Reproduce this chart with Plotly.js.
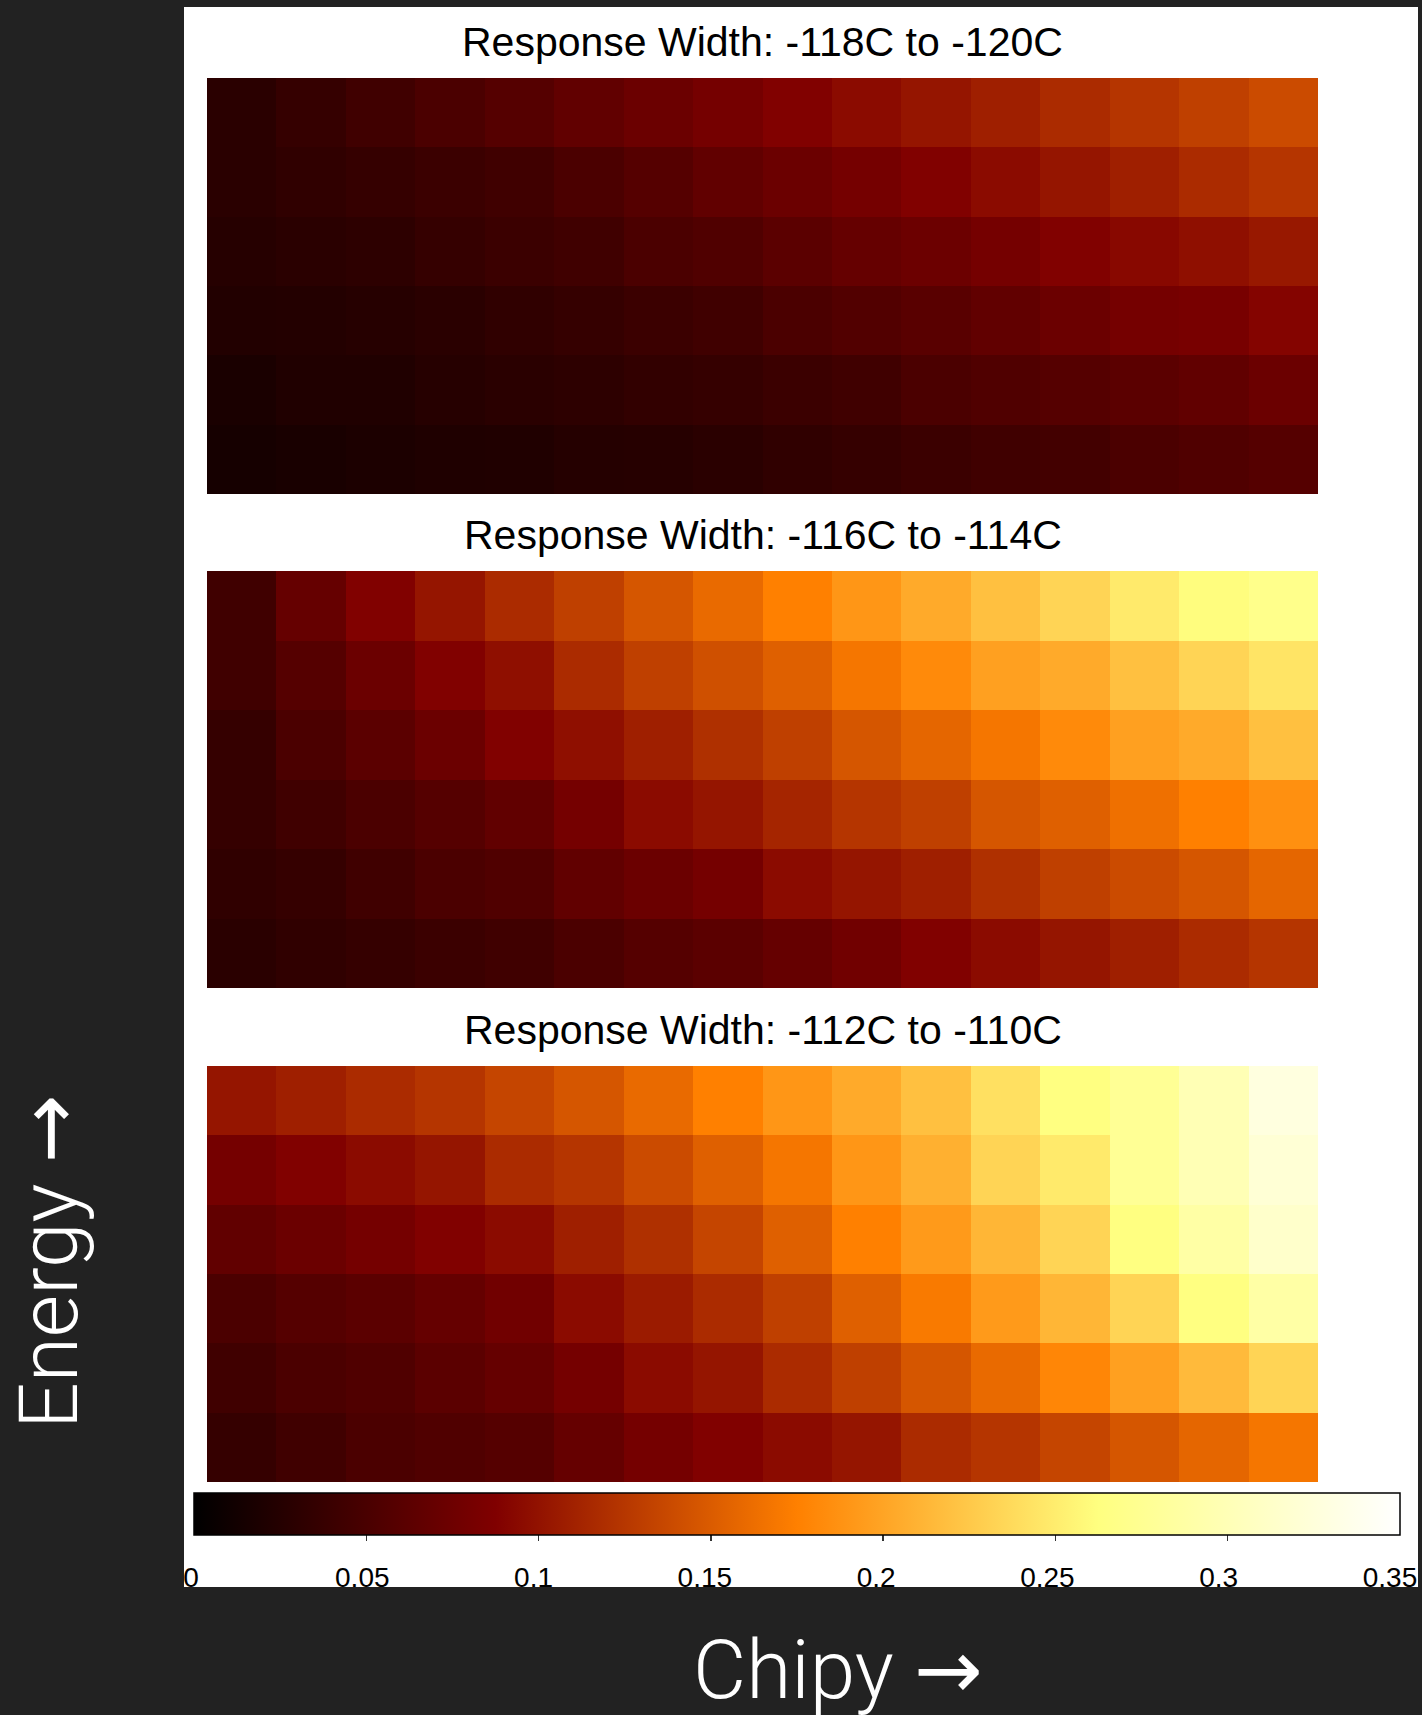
<!DOCTYPE html>
<html>
<head>
<meta charset="utf-8">
<script src="https://cdn.plot.ly/plotly-3.0.1.min.js"></script>
<style>
  html, body { margin: 0; padding: 0; background: #222222; }
  #chart { width: 1422px; height: 1715px; }
</style>
</head>
<body>
<div id="chart"></div>
<script>
// Grid coordinates: 16 chipy bins across, 6 energy bins up (lowest energy first)
const chipy = [1, 2, 3, 4, 5, 6, 7, 8, 9, 10, 11, 12, 13, 14, 15, 16];
const energy = [1, 2, 3, 4, 5, 6];

const panelTitles = [
  'Response Width: -118C to -120C',
  'Response Width: -116C to -114C',
  'Response Width: -112C to -110C'
];

// Response maps, rows listed from lowest energy to highest
const response118to120 = [
  [0.015, 0.017, 0.019, 0.021, 0.022, 0.025, 0.026, 0.029, 0.033, 0.036, 0.040, 0.044, 0.046, 0.051, 0.055, 0.058],
  [0.018, 0.022, 0.022, 0.026, 0.029, 0.031, 0.034, 0.036, 0.040, 0.044, 0.051, 0.055, 0.058, 0.062, 0.066, 0.073],
  [0.023, 0.024, 0.026, 0.029, 0.033, 0.036, 0.040, 0.044, 0.051, 0.056, 0.061, 0.066, 0.073, 0.080, 0.082, 0.090],
  [0.026, 0.029, 0.031, 0.036, 0.040, 0.044, 0.051, 0.055, 0.062, 0.069, 0.074, 0.080, 0.088, 0.093, 0.098, 0.104],
  [0.029, 0.033, 0.036, 0.040, 0.044, 0.051, 0.058, 0.066, 0.073, 0.080, 0.088, 0.095, 0.102, 0.109, 0.117, 0.124],
  [0.029, 0.036, 0.044, 0.051, 0.058, 0.066, 0.073, 0.080, 0.088, 0.095, 0.102, 0.109, 0.117, 0.124, 0.131, 0.139]
];

const response116to114 = [
  [0.029, 0.033, 0.036, 0.040, 0.044, 0.051, 0.058, 0.062, 0.069, 0.077, 0.088, 0.095, 0.102, 0.109, 0.117, 0.124],
  [0.033, 0.036, 0.044, 0.051, 0.055, 0.066, 0.073, 0.080, 0.095, 0.102, 0.109, 0.120, 0.131, 0.139, 0.146, 0.157],
  [0.036, 0.044, 0.051, 0.058, 0.066, 0.080, 0.095, 0.102, 0.113, 0.124, 0.131, 0.146, 0.153, 0.164, 0.175, 0.186],
  [0.036, 0.051, 0.062, 0.073, 0.088, 0.098, 0.109, 0.120, 0.131, 0.146, 0.157, 0.168, 0.182, 0.197, 0.204, 0.219],
  [0.044, 0.058, 0.073, 0.088, 0.098, 0.117, 0.131, 0.142, 0.153, 0.168, 0.182, 0.197, 0.204, 0.219, 0.233, 0.244],
  [0.044, 0.069, 0.088, 0.102, 0.117, 0.131, 0.146, 0.160, 0.175, 0.190, 0.204, 0.219, 0.233, 0.248, 0.261, 0.270]
];

const response112to110 = [
  [0.036, 0.044, 0.051, 0.055, 0.058, 0.069, 0.080, 0.088, 0.095, 0.102, 0.117, 0.124, 0.135, 0.146, 0.157, 0.168],
  [0.044, 0.051, 0.055, 0.062, 0.069, 0.080, 0.095, 0.102, 0.117, 0.131, 0.146, 0.160, 0.179, 0.197, 0.215, 0.233],
  [0.051, 0.058, 0.062, 0.069, 0.077, 0.095, 0.106, 0.117, 0.131, 0.153, 0.171, 0.193, 0.212, 0.233, 0.263, 0.288],
  [0.066, 0.073, 0.080, 0.088, 0.095, 0.109, 0.120, 0.135, 0.153, 0.175, 0.193, 0.212, 0.233, 0.263, 0.288, 0.314],
  [0.080, 0.088, 0.095, 0.102, 0.117, 0.124, 0.139, 0.153, 0.168, 0.190, 0.208, 0.233, 0.248, 0.277, 0.299, 0.321],
  [0.102, 0.109, 0.117, 0.124, 0.135, 0.146, 0.160, 0.175, 0.190, 0.204, 0.219, 0.241, 0.263, 0.277, 0.299, 0.328]
];

const colorbarTicks = [0, 0.05, 0.1, 0.15, 0.2, 0.25, 0.3, 0.35];
const colorbarTickText = ['0', '0.05', '0.1', '0.15', '0.2', '0.25', '0.3', '0.35'];
const colorRange = [0, 0.35];

const xAxisWord = 'Chipy';
const yAxisWord = 'Energy';
const arrowGlyph = '\u2192';

// ---- page geometry (pixels) ----
const W = 1422, H = 1715;
const fx = p => p / W;          // pixel x -> paper fraction
const fy = p => 1 - p / H;      // pixel y (from top) -> paper fraction

// afmhot: r = 2t, g = 2t - 0.5, b = 2t - 1 (clipped)
const afmhot = [
  [0.00, '#000000'],
  [0.25, '#800000'],
  [0.50, '#ff8000'],
  [0.75, '#ffff80'],
  [1.00, '#ffffff']
];

const panels = [response118to120, response116to114, response112to110];
const panelRows = [[78, 494], [571, 988], [1066, 1482]];
const mapLeft = 207, mapRight = 1318;
const barLeft = 194, barRight = 1400, barTop = 1493, barBottom = 1535;

const traces = panels.map((z, i) => ({
  type: 'heatmap',
  x: chipy,
  y: energy,
  z: z,
  xaxis: i === 0 ? 'x' : 'x' + (i + 1),
  yaxis: i === 0 ? 'y' : 'y' + (i + 1),
  colorscale: afmhot,
  zmin: colorRange[0],
  zmax: colorRange[1],
  zsmooth: false,
  hoverinfo: 'skip',
  showscale: i === 0,
  colorbar: {
    orientation: 'h',
    x: fx((barLeft + barRight) / 2), xanchor: 'center',
    y: fy(barTop), yanchor: 'top',
    len: (barRight - barLeft) / W, lenmode: 'fraction',
    thickness: barBottom - barTop, thicknessmode: 'pixels',
    xpad: 0, ypad: 0,
    outlinecolor: '#000000', outlinewidth: 1.5,
    tickmode: 'array', tickvals: colorbarTicks.slice(1, -1),
    ticks: 'outside', ticklen: 6, tickwidth: 1.5, tickcolor: '#333333',
    showticklabels: false
  }
}));

const layout = {
  width: W, height: H,
  margin: { l: 0, r: 0, t: 0, b: 0, pad: 0 },
  paper_bgcolor: '#222222',
  plot_bgcolor: 'rgba(0,0,0,0)',
  showlegend: false,
  shapes: [{
    type: 'rect', xref: 'paper', yref: 'paper', layer: 'below',
    x0: fx(184), x1: fx(1418), y0: fy(1587), y1: fy(7),
    fillcolor: '#ffffff', line: { width: 0 }
  }],
  annotations: []
};

panelRows.forEach((rows, i) => {
  const sfx = i === 0 ? '' : String(i + 1);
  layout['xaxis' + sfx] = {
    domain: [fx(mapLeft), fx(mapRight)], anchor: 'y' + sfx,
    visible: false, fixedrange: true
  };
  layout['yaxis' + sfx] = {
    domain: [fy(rows[1]), fy(rows[0])], anchor: 'x' + sfx,
    visible: false, fixedrange: true
  };
  layout.annotations.push({
    text: panelTitles[i],
    xref: 'x' + sfx + ' domain', yref: 'y' + sfx + ' domain',
    x: 0.5, y: 1, xanchor: 'center', yanchor: 'bottom', yshift: 11,
    showarrow: false,
    font: { family: 'Liberation Sans, Arial, sans-serif', size: 41, color: '#000000' }
  });
});

// Colorbar tick labels on their own value axis
layout.xaxis4 = {
  domain: [fx(191), fx(1390)], range: colorRange, anchor: 'y4',
  tickmode: 'array', tickvals: colorbarTicks, ticktext: colorbarTickText, ticks: '',
  showline: false, showgrid: false, zeroline: false, fixedrange: true,
  tickfont: { family: 'Liberation Sans, Arial, sans-serif', size: 28, color: '#000000' }
};
layout.yaxis4 = {
  domain: [fy(1558), fy(1554)], range: [0, 1], anchor: 'x4',
  visible: false, fixedrange: true
};

// Axis titles
const titleFont = { family: 'Roboto, sans-serif', size: 82, weight: 300, color: '#ffffff' };
const arrowSpan = '<span style="font-family:DejaVu Sans;font-weight:normal">' + arrowGlyph + '</span>';
layout.annotations.push({
  text: yAxisWord + ' ' + arrowSpan, xref: 'paper', yref: 'paper',
  x: fx(49), y: fy(1262), xanchor: 'center', yanchor: 'middle',
  textangle: -90, showarrow: false, font: titleFont
});
layout.annotations.push({
  text: xAxisWord + ' ' + arrowSpan, xref: 'paper', yref: 'paper',
  x: fx(838), y: fy(1670), xanchor: 'center', yanchor: 'middle',
  showarrow: false, font: titleFont
});

// empty trace so the label axis is laid out
traces.push({ type: 'scatter', x: [], y: [], xaxis: 'x4', yaxis: 'y4', hoverinfo: 'skip' });

Plotly.newPlot('chart', traces, layout, { displayModeBar: false, staticPlot: true });
</script>
</body>
</html>
